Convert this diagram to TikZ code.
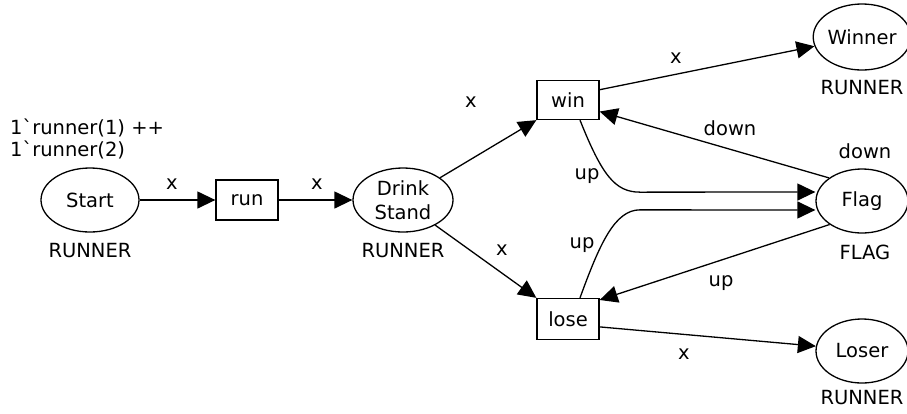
\documentclass[tikz,border=0pt]{standalone}
\usepackage{fontspec}
\newfontfamily\cpnfont{DejaVu Sans}
\usetikzlibrary{arrows.meta,shapes.geometric}

\tikzset{
  place/.style={ellipse, draw, line width=1.3pt, inner sep=0pt, minimum width=98pt, minimum height=64pt, align=center},
  trans/.style={rectangle, draw, line width=1.3pt, minimum width=62pt, minimum height=40pt},
  arc/.style={line width=1.3pt, -{Triangle[length=18pt,width=17pt]}},
  lbl/.style={inner sep=0pt},
}

\begin{document}
\begin{tikzpicture}[x=1pt, y=-1pt, font=\cpnfont\fontsize{19.5}{22}\selectfont]
			%%%%% START %%%%%
			\useasboundingbox (0,0) rectangle (907,413);
			
			% places
			\node[place] (st) at (90, 200) {Start};
			\node[place, minimum width=100pt] (ds) at (403, 200) {Drink\\[2pt]Stand};
			\node[place, minimum width=92pt, minimum height=66pt] (wn) at (862, 37) {Winner};
			\node[place, minimum width=92pt] (fl) at (862, 201) {Flag};
			\node[place, minimum width=92pt] (ls) at (862, 351) {Loser};
			
			% transitions
			\node[trans] (run) at (247, 200) {run};
			\node[trans, minimum height=39pt] (win) at (568, 100) {win};
			\node[trans, minimum height=41pt] (lose) at (568, 319) {lose};
			
			% colour sets and initial marking
			\node[lbl, align=left, anchor=west] (init) at (10, 139) {1`runner(1) ++\\1`runner(2)};
			\node[lbl] (cs1) at (90, 251) {RUNNER};
			\node[lbl] (cs2) at (403, 251) {RUNNER};
			\node[lbl] (cs3) at (862, 88) {RUNNER};
			\node[lbl] (cs4) at (865, 252) {FLAG};
			\node[lbl] (cs5) at (862, 398) {RUNNER};
			\node[lbl] (mk) at (865, 151) {down};
			
			% arcs
			\draw[arc] (st) -- (run);
			\draw[arc] (run) -- (ds);
			\draw[arc] (ds.31) -- (win.south west);
			\draw[arc] (ds.-38) -- (lose.north west);
			\draw[arc] (win.18) -- (wn.191);
			\draw[arc] (lose.-14) -- (ls.174);
			\draw[arc] (fl.145) -- (win.-20);
			\draw[arc] (fl.216) -- (lose.31);
			\draw[arc] ([xshift=12pt]win.south) .. controls +(22,55) and +(-25,0) .. ++(60,72) -- ([yshift=9pt]fl.west);
			\draw[arc] ([xshift=12pt]lose.north) .. controls +(20,-55) and +(-25,0) .. ++(60,-88) -- ([yshift=-9pt]fl.west);
			
			% arc inscriptions
			\node[lbl] (a1) at (172, 184) {x};
			\node[lbl] (a2) at (317, 184) {x};
			\node[lbl] (a3) at (471, 102) {x};
			\node[lbl] (a4) at (502, 250) {x};
			\node[lbl] (a5) at (676, 58) {x};
			\node[lbl] (a6) at (684, 354) {x};
			\node[lbl] (a7) at (730, 128) {down};
			\node[lbl] (a8) at (587, 176) {up};
			\node[lbl] (a9) at (582, 245) {up};
			\node[lbl] (a10) at (721, 283) {up};
			
			%%%%% END %%%%%
\end{tikzpicture}
\end{document}
